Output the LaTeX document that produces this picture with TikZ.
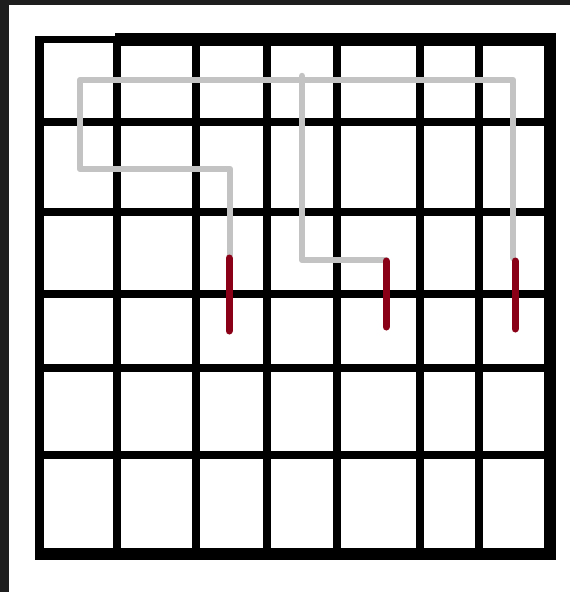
\documentclass[tikz,border=0pt]{standalone}
\usepackage{tikz}
\usetikzlibrary{calc}
\definecolor{bgdark}{HTML}{1E1E1E}
\definecolor{wire}{HTML}{C3C3C3}
\definecolor{probe}{HTML}{8A0016}
\begin{document}
\begin{tikzpicture}[x=1pt,y=-1pt,
    gridline/.style={black,line width=7.5pt},
    frameline/.style={black,line width=11pt},
    wirepath/.style={wire,line width=6.5pt,line cap=round,line join=round},
    probeline/.style={probe,line width=7pt,line cap=round}]
  \useasboundingbox (0,0) rectangle (570,592);
  % backdrop
  \fill[bgdark] (0,0) rectangle (570,592);
  \fill[white] (9,5) rectangle (570,592);
  % grid cells
  \foreach \x in {117,196,267,337,420,479}
    \draw[gridline] (\x,43) -- (\x,549);
  \foreach \y in {122,212,294,368,455}
    \draw[gridline] (40,\y) -- (550,\y);
  % outer frame, drawn by hand
  \draw[black,line width=9pt] (39.5,36) -- (39.5,560);
  \draw[black,line width=7pt] (35,39.5) -- (117,39.5);
  \draw[frameline,line width=13pt] (115,39.5) -- (556,39.5);
  \draw[frameline,line width=12pt] (550,33) -- (550,560);
  \draw[frameline,line width=12pt] (35,554) -- (556,554);
  % grey wires
  \draw[wirepath] (230,255) -- (230,169) -- (80,169) -- (80,80) -- (513,80) -- (513,258);
  \draw[wirepath] (302,76) -- (302,260) -- (386,260);
  % red ends
  \draw[probeline] (229,258) -- (229,331);
  \draw[probeline] (386,261) -- (386,327);
  \draw[probeline] (515,261) -- (515,329);
\end{tikzpicture}
\end{document}
